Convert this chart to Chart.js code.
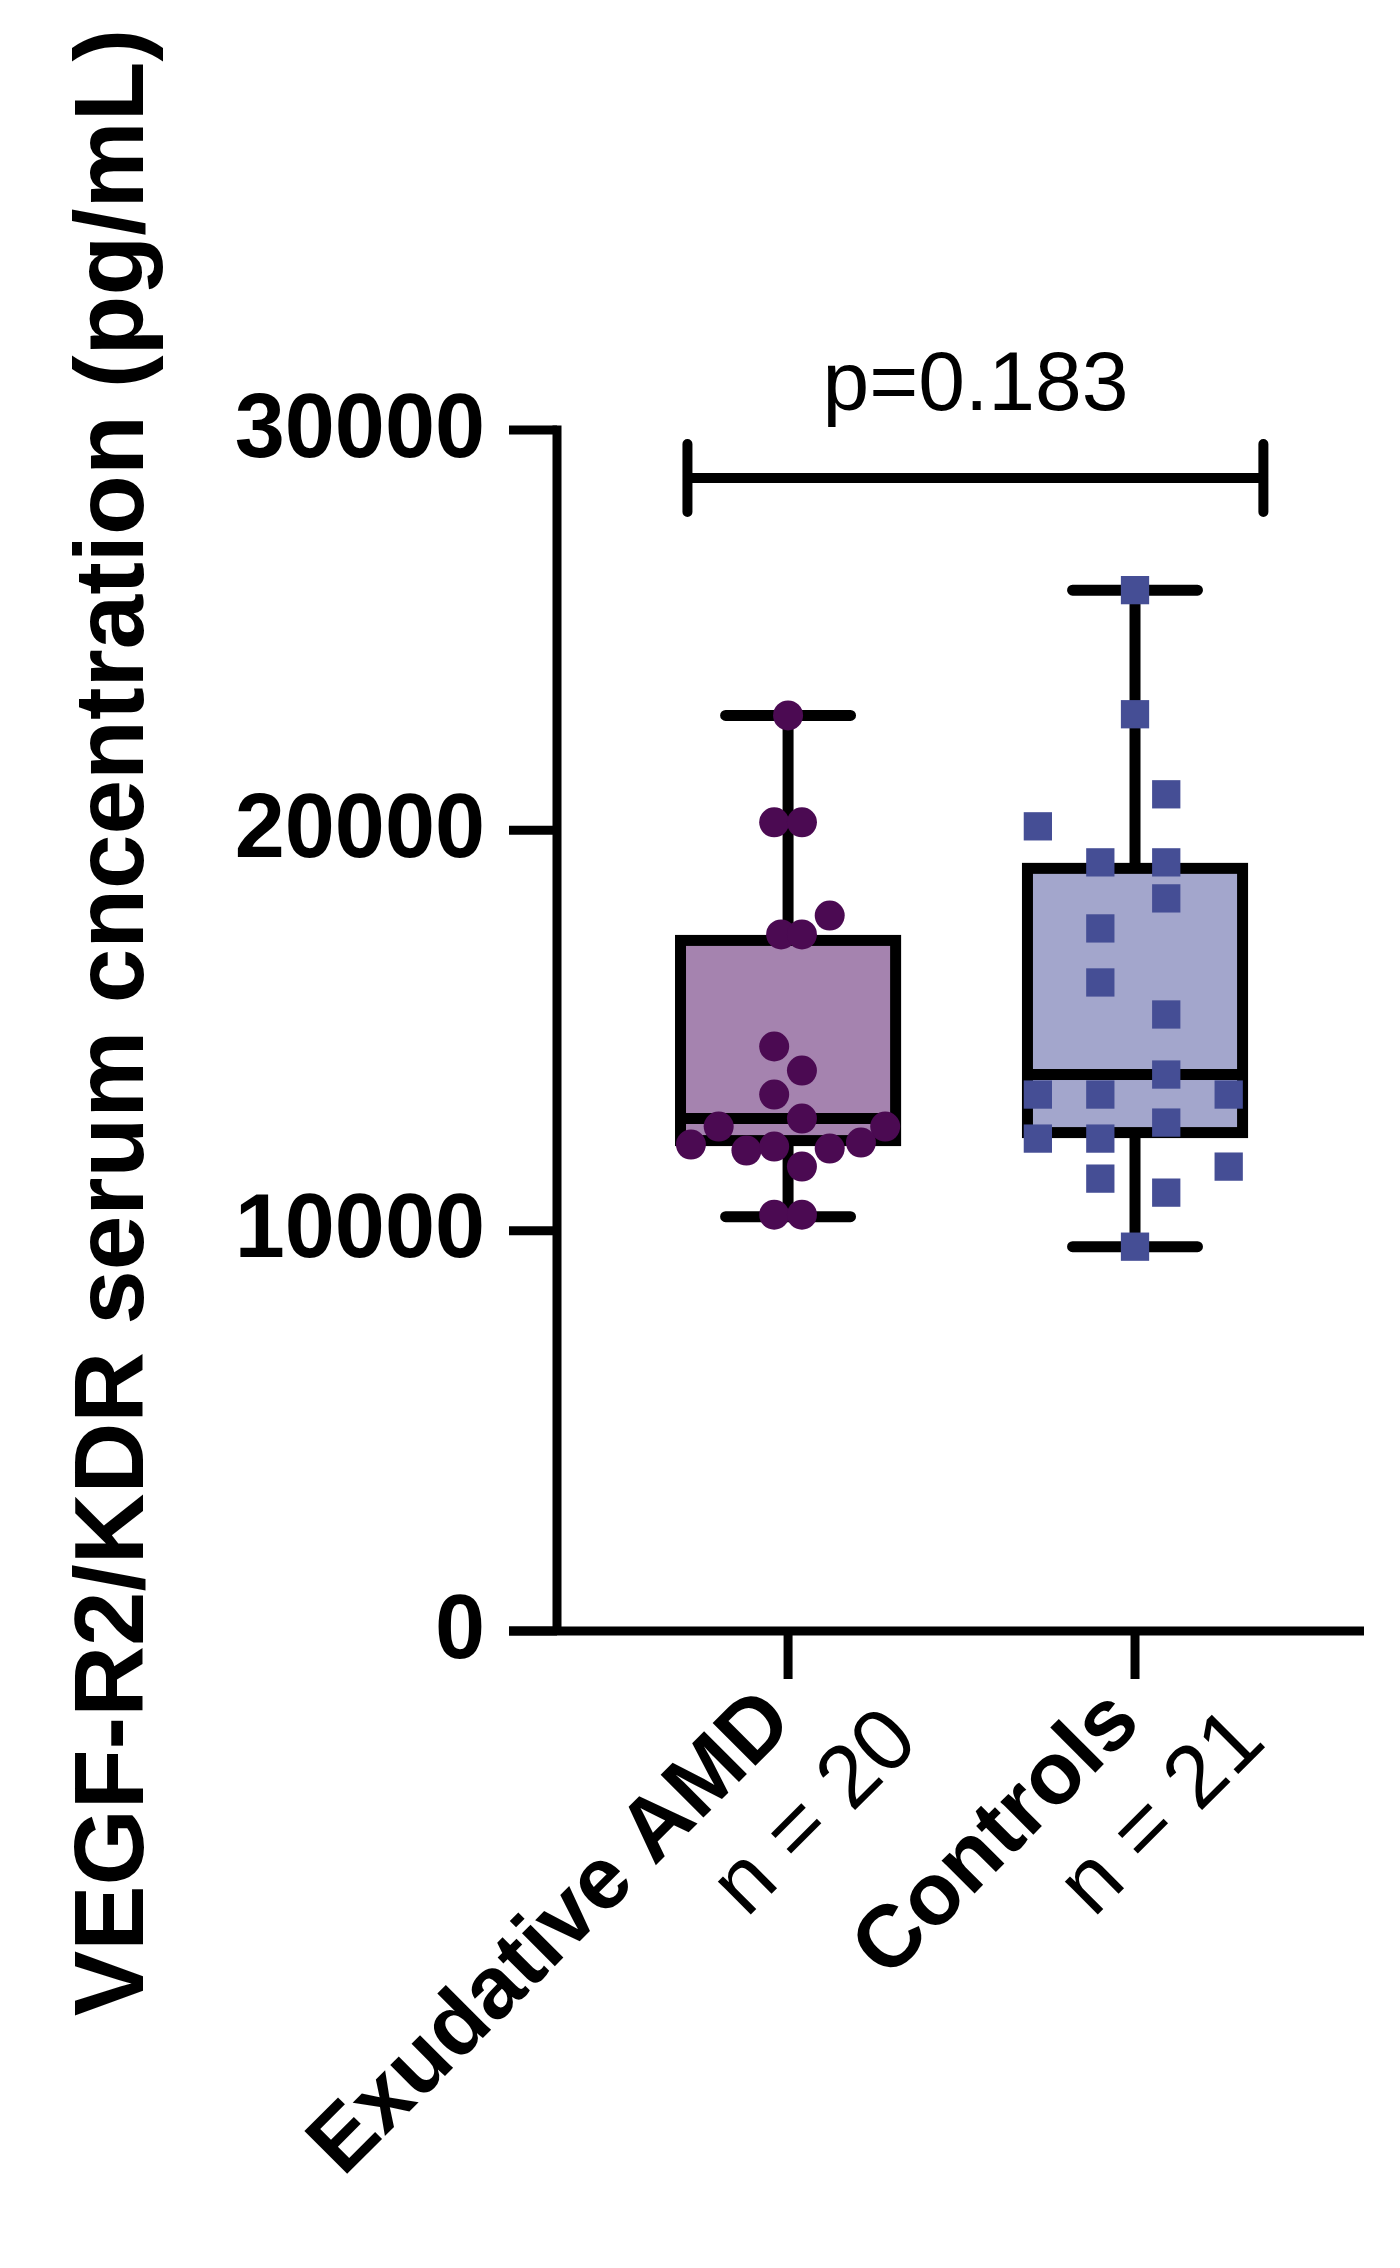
<!DOCTYPE html>
<html><head><meta charset="utf-8">
<script src="https://cdn.jsdelivr.net/npm/chart.js@4"></script>
<style>html,body{margin:0;padding:0;background:#fff}#c{display:block}</style>
</head><body>
<canvas id="c" width="1400" height="2268"></canvas>
<script>
const categories = ["Exudative AMD", "Controls"];
const nLabels = ["n = 20", "n = 21"];
const yTicks = [0, 10000, 20000, 30000];
const yTitle = "VEGF-R2/KDR serum cncentration (pg/mL)";
const pText = "p=0.183";
const pBarValue = 28800;

const amdValues = [22870,20200,20200,17870,17400,17400,14600,14000,13400,12800,12600,12600,12150,12000,12100,12050,12200,11600,10400,10400];
const amdJitter = [0,-0.04,0.04,0.12,-0.02,0.04,-0.04,0.04,-0.04,0.04,-0.2,0.28,-0.28,-0.12,-0.04,0.12,0.21,0.04,-0.04,0.04];
const ctrlValues = [26000,22900,20900,20100,19200,19200,18300,17550,16200,15400,13900,13400,13400,13400,12700,12300,12300,11300,10950,11600,9600];
const ctrlJitter = [0,0,0.09,-0.28,-0.1,0.09,0.09,-0.1,-0.1,0.09,0.09,-0.28,-0.1,0.27,0.09,-0.28,-0.1,-0.1,0.09,0.27,0];

// box stats: [min, q1, median, q3, max]
const amdBox = [10350, 12250, 12800, 17250, 22870];
const ctrlBox = [9600, 12450, 13900, 19050, 26000];

const boxFills = ["#a583af", "#a3a6cc"];
const pointColors = ["#4b0a52", "#454e95"];

const boxes = [amdBox, ctrlBox];

const drawPlugin = {
  id: 'custom',
  beforeDatasetsDraw(chart) {
    const ctx = chart.ctx, x = chart.scales.x, y = chart.scales.y;
    ctx.save();
    ctx.lineCap = 'butt';
    boxes.forEach((b, i) => {
      const cx = x.getPixelForValue(i + 1);
      const hw = x.getPixelForValue(i + 1 + 0.31) - cx;
      const cw = x.getPixelForValue(i + 1 + 0.18) - cx;
      const pMin = y.getPixelForValue(b[0]), pQ1 = y.getPixelForValue(b[1]),
            pMed = y.getPixelForValue(b[2]), pQ3 = y.getPixelForValue(b[3]), pMax = y.getPixelForValue(b[4]);
      ctx.strokeStyle = '#000'; ctx.lineWidth = 11;
      ctx.beginPath();
      ctx.moveTo(cx, pMax); ctx.lineTo(cx, pQ3);
      ctx.moveTo(cx, pQ1); ctx.lineTo(cx, pMin);
      ctx.stroke();
      ctx.lineCap = 'round';
      ctx.beginPath();
      ctx.moveTo(cx - cw, pMax); ctx.lineTo(cx + cw, pMax);
      ctx.moveTo(cx - cw, pMin); ctx.lineTo(cx + cw, pMin);
      ctx.stroke();
      ctx.lineCap = 'butt';
      ctx.fillStyle = boxFills[i];
      ctx.fillRect(cx - hw, pQ3, 2 * hw, pQ1 - pQ3);
      ctx.strokeRect(cx - hw, pQ3, 2 * hw, pQ1 - pQ3);
      ctx.beginPath(); ctx.moveTo(cx - hw, pMed); ctx.lineTo(cx + hw, pMed); ctx.stroke();
    });
    ctx.restore();
  },
  afterDraw(chart) {
    const ctx = chart.ctx, x = chart.scales.x, y = chart.scales.y;
    const a = chart.chartArea;
    ctx.save();
    ctx.strokeStyle = '#000'; ctx.fillStyle = '#000';
    ctx.lineWidth = 9;
    ctx.beginPath();
    ctx.moveTo(a.left, y.getPixelForValue(30000) - 4.5); ctx.lineTo(a.left, a.bottom);
    ctx.moveTo(a.left - 48, a.bottom); ctx.lineTo(a.right, a.bottom);
    ctx.stroke();
    ctx.font = 'bold 90px Arial, "Liberation Sans"';
    ctx.textAlign = 'right'; ctx.textBaseline = 'middle';
    yTicks.forEach(v => {
      const py = y.getPixelForValue(v);
      ctx.beginPath(); ctx.moveTo(a.left - 48, py); ctx.lineTo(a.left, py); ctx.stroke();
      ctx.fillText(String(v), a.left - 72, py + 2);
    });
    categories.forEach((c, i) => {
      const px = x.getPixelForValue(i + 1);
      ctx.beginPath(); ctx.moveTo(px, a.bottom); ctx.lineTo(px, a.bottom + 48); ctx.stroke();
      ctx.save();
      ctx.translate(px + 8, a.bottom + 94);
      ctx.rotate(-Math.PI / 4);
      ctx.textAlign = 'right'; ctx.textBaseline = 'alphabetic';
      ctx.font = 'bold 88px Arial, "Liberation Sans"';
      ctx.fillText(c, 0, 0);
      ctx.font = '88px Arial, "Liberation Sans"';
      ctx.fillText(nLabels[i], 75, 102);
      ctx.restore();
    });
    ctx.save();
    ctx.translate(143, (a.top + a.bottom) / 2 - 8);
    ctx.rotate(-Math.PI / 2);
    ctx.textAlign = 'center'; ctx.textBaseline = 'alphabetic';
    ctx.font = 'bold 98px Arial, "Liberation Sans"';
    ctx.fillText(yTitle, 0, 0);
    ctx.restore();
    const py = y.getPixelForValue(pBarValue);
    const x1 = x.getPixelForValue(0.71), x2 = x.getPixelForValue(2.37);
    ctx.lineWidth = 10; ctx.lineCap = 'round';
    ctx.beginPath();
    ctx.moveTo(x1, py); ctx.lineTo(x2, py);
    ctx.moveTo(x1, py - 34); ctx.lineTo(x1, py + 34);
    ctx.moveTo(x2, py - 34); ctx.lineTo(x2, py + 34);
    ctx.stroke();
    ctx.font = '84px Arial, "Liberation Sans"';
    ctx.textAlign = 'center'; ctx.textBaseline = 'alphabetic';
    ctx.fillText(pText, (x1 + x2) / 2, a.top - 20);
    ctx.restore();
  }
};

const amdPts = amdValues.map((v, i) => ({x: 1 + amdJitter[i], y: v}));
const ctrlPts = ctrlValues.map((v, i) => ({x: 2 + ctrlJitter[i], y: v}));

new Chart(document.getElementById('c'), {
  type: 'scatter',
  data: {
    datasets: [
      {label: categories[0], data: amdPts, pointStyle: 'circle', pointRadius: 15, backgroundColor: pointColors[0], borderWidth: 0, pointHoverRadius: 15},
      {label: categories[1], data: ctrlPts, pointStyle: 'rect', pointRadius: 20, backgroundColor: pointColors[1], borderWidth: 0, pointHoverRadius: 20}
    ]
  },
  options: {
    responsive: false, animation: false,
    layout: {padding: {left: 557, top: 430, right: 36, bottom: 637}},
    plugins: {legend: {display: false}, tooltip: {enabled: false}},
    scales: {
      x: {type: 'linear', min: 0.334, max: 2.66, display: false},
      y: {min: 0, max: 30000, display: false}
    }
  },
  plugins: [drawPlugin]
});
</script>
</body></html>
